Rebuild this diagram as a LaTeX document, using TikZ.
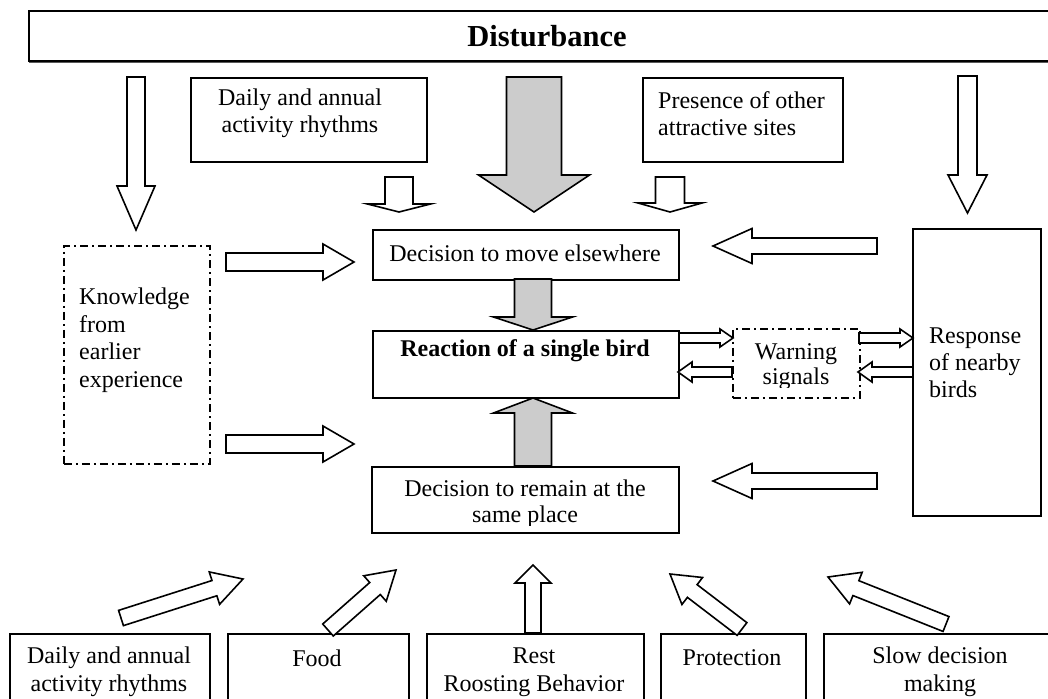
\documentclass[tikz,border=0pt]{standalone}
\usepackage{fontspec}
\setmainfont{Liberation Serif}
\usetikzlibrary{calc}
\tikzset{
  box/.style={draw, line width=1.6pt, inner sep=0pt, anchor=north west},
  dashbox/.style={box, dash pattern=on 8pt off 4pt on 2pt off 4pt},
  openarrow/.style={draw, line width=1.6pt, fill=white, line join=miter},
  shadearrow/.style={draw, line width=1.6pt, fill=gray!40, line join=miter},
  txt/.style={font=\fontsize{24}{27}\selectfont, align=center, inner sep=0pt},
  ltxt/.style={txt, align=left, anchor=west},
}
\newcommand{\blockarr}[6]{%
  \coordinate (BAh) at ($(#3)!#6!(#2)$);
  \path[#1] ($(#2)!#4!90:(#3)$) -- ($(BAh)!#4!90:(#3)$) -- ($(BAh)!#5!90:(#3)$) -- (#3)
     -- ($(BAh)!#5!-90:(#3)$) -- ($(BAh)!#4!-90:(#3)$) -- ($(#2)!#4!-90:(#3)$) -- cycle;}
\begin{document}
\begin{tikzpicture}[x=1pt,y=-1pt]
\useasboundingbox (0,0) rectangle (1048,698);
% ---- banner
\draw[gray!70!black, line width=2.2pt] (29,62) -- (1060,62);
\node[box, minimum width=1032pt, minimum height=50pt] (dist) at (28,10) {};
\node[txt, font=\bfseries\fontsize{30.5}{34}\selectfont] (disttxt) at (547,36) {Disturbance};
% ---- top boxes
\node[box, minimum width=236pt, minimum height=84pt] (dailytop) at (190,77) {};
\node[txt] (dailytoptxt) at (300,113) {Daily and annual\\activity rhythms};
\node[box, minimum width=200pt, minimum height=84pt] (presence) at (642,77) {};
\node[ltxt] (presencetxt) at (658,114) {Presence of other\\attractive sites};
% ---- central boxes
\node[box, minimum width=306pt, minimum height=50pt] (move) at (372,229) {};
\node[txt] (movetxt) at (525,253) {Decision to move elsewhere};
\node[box, minimum width=306pt, minimum height=67pt] (react) at (372,330) {};
\node[txt, font=\bfseries\fontsize{24}{26}\selectfont] (reacttxt) at (525,351) {Reaction of a single bird};
\node[box, minimum width=307pt, minimum height=66pt] (remain) at (371,466) {};
\begin{scope}
  \clip (371,466) rectangle (678,525);
  \node[txt, font=\fontsize{24}{26}\selectfont] (remaintxt) at (525,503.5) {Decision to remain at the\\same place};
\end{scope}
% ---- side boxes
\node[dashbox, minimum width=146pt, minimum height=218pt] (know) at (63,245) {};
\node[ltxt, font=\fontsize{24}{27.5}\selectfont] (knowtxt) at (79,340) {Knowledge\\from\\earlier\\experience};
\node[dashbox, minimum width=127pt, minimum height=69pt] (warn) at (732,328) {};
\begin{scope}
  \clip (732,328) rectangle (859,387.5);
  \node[txt, font=\fontsize{24}{25}\selectfont] (warntxt) at (796,367) {Warning\\signals};
\end{scope}
\node[box, minimum width=128pt, minimum height=287pt] (resp) at (912,228) {};
\node[ltxt, font=\fontsize{24}{27}\selectfont] (resptxt) at (929,363) {Response\\of nearby\\birds};
% ---- bottom boxes
\node[box, minimum width=200pt, minimum height=90pt] (b1) at (9,633) {};
\node[txt, font=\fontsize{24}{28}\selectfont] (b1txt) at (109,672) {Daily and annual\\activity rhythms};
\node[box, minimum width=181pt, minimum height=90pt] (b2) at (227,633) {};
\node[txt] (b2txt) at (317,658) {Food};
\node[box, minimum width=217pt, minimum height=90pt] (b3) at (426,633) {};
\node[txt, font=\fontsize{24}{28}\selectfont] (b3txt) at (534,672) {Rest\\Roosting Behavior};
\node[box, minimum width=145pt, minimum height=90pt] (b4) at (660,633) {};
\node[txt] (b4txt) at (732,658) {Protection};
\node[box, minimum width=237pt, minimum height=90pt] (b5) at (823,633) {};
\node[txt, font=\fontsize{24}{28}\selectfont] (b5txt) at (940,672) {Slow decision\\making};
% ---- arrow end points
\coordinate (kt) at (136,77);  \coordinate (kh) at (136,230);
\coordinate (rt) at (967.5,76);  \coordinate (rh) at (967.5,213);
\coordinate (dt) at (399,177); \coordinate (dh) at (399,212);
\coordinate (pt) at (670,177); \coordinate (ph) at (670,212);
\coordinate (ct) at (534,77);  \coordinate (ch) at (534,212);
\coordinate (k1t) at (226,262); \coordinate (k1h) at (354,262);
\coordinate (k2t) at (226,444); \coordinate (k2h) at (354,444);
\coordinate (r1t) at (877,246); \coordinate (r1h) at (713,246);
\coordinate (r2t) at (877,481); \coordinate (r2h) at (713,481);
\coordinate (mrt) at (533,279); \coordinate (mrh) at (533,330);
\coordinate (rrt) at (533,466); \coordinate (rrh) at (533,398);
\coordinate (w1t) at (679,338); \coordinate (w1h) at (733,338);
\coordinate (w2t) at (732,372); \coordinate (w2h) at (678,372);
\coordinate (w3t) at (859,338); \coordinate (w3h) at (913,338);
\coordinate (w4t) at (913,372); \coordinate (w4h) at (858,372);
\coordinate (a1t) at (121,618); \coordinate (a1h) at (243,579);
\coordinate (a2t) at (328,630); \coordinate (a2h) at (396,570);
\coordinate (a3t) at (533,633); \coordinate (a3h) at (533,565);
\coordinate (a4t) at (742,629); \coordinate (a4h) at (670,574);
\coordinate (a5t) at (946,624); \coordinate (a5h) at (828,577);
% ---- arrows
\blockarr{openarrow}{kt}{kh}{9pt}{19pt}{44pt}
\blockarr{openarrow}{rt}{rh}{9.5pt}{19.5pt}{38pt}
\blockarr{openarrow}{dt}{dh}{14pt}{31.5pt}{8pt}
\blockarr{openarrow}{pt}{ph}{14.5pt}{32pt}{9pt}
\blockarr{shadearrow}{ct}{ch}{27.5pt}{55.5pt}{37pt}
\blockarr{openarrow}{k1t}{k1h}{9pt}{18pt}{31pt}
\blockarr{openarrow}{k2t}{k2h}{9pt}{18pt}{31pt}
\blockarr{openarrow}{r1t}{r1h}{8pt}{17.5pt}{39pt}
\blockarr{openarrow}{r2t}{r2h}{8pt}{17.5pt}{39pt}
\blockarr{shadearrow}{mrt}{mrh}{18.5pt}{39.5pt}{13pt}
\blockarr{shadearrow}{rrt}{rrh}{18.5pt}{39.5pt}{15pt}
\blockarr{openarrow}{w1t}{w1h}{5pt}{9pt}{13pt}
\blockarr{openarrow}{w2t}{w2h}{5pt}{10pt}{14pt}
\blockarr{openarrow}{w3t}{w3h}{5pt}{9pt}{13pt}
\blockarr{openarrow}{w4t}{w4h}{5pt}{10pt}{14pt}
\blockarr{openarrow}{a1t}{a1h}{8pt}{17pt}{30pt}
\blockarr{openarrow}{a2t}{a2h}{8pt}{17pt}{28pt}
\blockarr{openarrow}{a3t}{a3h}{8pt}{18pt}{18pt}
\blockarr{openarrow}{a4t}{a4h}{8pt}{17pt}{28pt}
\blockarr{openarrow}{a5t}{a5h}{8pt}{17pt}{30pt}
\end{tikzpicture}
\end{document}
